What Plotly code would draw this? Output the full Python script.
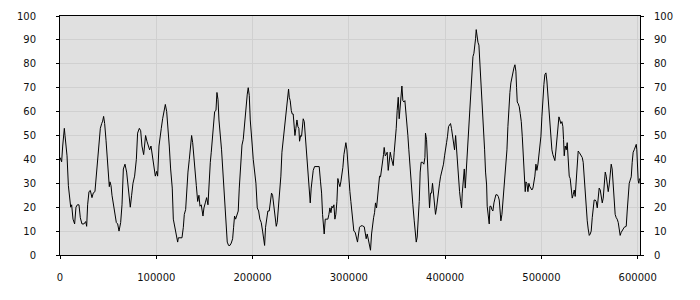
import plotly.graph_objects as go

# x positions in thousands
x_k = [
    0, 1.7, 2.8, 3.5, 4.5, 5.2, 6.2, 7.3, 8.7, 9.7,
    11.1, 12.1, 13.5, 15.2, 16.6, 18.0, 19.7, 21.1, 22.8, 24.9,
    26.7, 27.7, 28.7, 30.1, 31.5, 33.2, 34.6, 36.3, 37.7, 39.1,
    40.5, 41.9, 43.3, 44.3, 45.3, 46.4, 47.8, 49.1, 50.2, 51.2,
    51.9, 53.0, 54.0, 55.4, 56.8, 58.5, 59.9, 61.3, 63.0, 64.4,
    65.8, 67.5, 69.2, 71.3, 73.0, 74.4, 75.8, 77.5, 79.3, 80.6,
    82.4, 83.8, 85.1, 86.9, 87.9, 88.9, 90.3, 91.7, 93.1, 94.5,
    95.9, 97.3, 99.0, 100.4, 101.4, 102.8, 104.2, 105.2, 106.6, 108.0,
    109.4, 110.8, 112.1, 113.5, 114.9, 116.6, 117.7, 119.4, 120.8, 122.2,
    122.9, 124.6, 126.7, 128.1, 129.1, 130.5, 131.5, 132.9, 134.3, 135.7,
    136.7, 137.8, 139.1, 140.2, 141.6, 143.0, 144.3, 145.4, 146.7, 148.5,
    149.5, 150.9, 152.3, 153.7, 154.7, 156.1, 157.1, 158.5, 159.6, 160.6,
    162.0, 163.0, 164.1, 165.1,
    167.8, 169.6, 170.6, 171.6, 172.7, 173.7, 175.1, 176.5, 177.9, 179.3,
    180.3, 181.3, 182.4, 184.1, 185.1, 186.2, 187.6, 189.0, 190.3, 191.4,
    192.4, 193.4, 194.5, 195.5, 196.6, 197.6, 198.6, 199.7, 200.7, 202.1,
    203.5, 204.9, 206.3, 207.6, 209.0, 210.4, 211.4, 212.5, 213.5, 214.9,
    215.9, 217.3, 218.7, 219.7, 220.8, 221.8, 223.2, 224.6, 225.6, 227.0,
    228.4, 229.4, 230.5, 231.5, 232.6, 233.6, 234.6, 235.7, 236.7, 237.4,
    238.1, 239.1, 240.2, 241.2, 242.2, 243.3, 244.0, 245.0, 246.1, 247.1,
    248.1, 248.8, 249.9, 250.9, 251.9, 252.6, 253.7, 254.7, 255.7, 256.8,
    257.8, 258.9, 259.9, 260.9, 262.0, 263.0, 264.4, 266.5, 269.2, 270.6,
    271.7, 272.7, 273.7, 274.4, 275.5, 276.9, 278.2, 279.3, 280.3, 281.4,
    282.4, 283.4, 284.5, 285.5, 286.5, 287.6, 288.6, 289.7, 290.7, 291.7,
    292.8, 293.8, 294.9, 295.9, 296.9, 298.0, 299.0, 300.0, 301.1, 302.1,
    303.2, 304.2, 305.2, 306.6, 308.0, 309.0, 310.1, 311.1, 312.5, 314.2,
    316.0, 317.0, 318.0, 319.1, 320.1, 321.5, 322.5, 323.6, 324.6, 325.7,
    326.7, 327.7, 328.8, 329.8, 330.9, 331.9, 332.9, 334.0, 335.0, 336.0,
    336.7, 337.8, 338.8, 339.8, 340.9, 341.9, 343.0, 344.0, 345.0, 346.1,
    347.1, 348.1, 349.2, 350.2, 351.3, 352.3, 353.3, 354.0, 355.1, 356.1,
    357.2, 358.2, 359.2, 360.3, 361.3, 362.3, 363.4, 364.4, 365.5, 366.5,
    367.9, 368.9, 370.0, 371.0, 372.0, 373.1, 374.1, 375.1, 376.5, 377.9,
    379.0, 379.6, 380.7, 381.7, 382.8, 383.8, 384.8, 385.9, 386.9, 387.9,
    389.0, 390.0, 391.1, 392.1, 393.1, 394.2, 395.2, 396.3, 397.3, 398.3,
    399.4, 400.4, 401.5, 402.5, 403.5, 404.6, 405.6, 406.6, 407.7, 408.7,
    409.8,
    410.9, 411.9, 412.9, 414.0, 415.0, 416.1, 417.1, 417.8, 418.8, 419.9,
    420.9, 421.9, 423.0, 424.0, 425.1, 426.1, 426.8, 427.8, 428.9, 429.9,
    430.6, 431.6, 432.3, 433.0, 434.1, 435.1, 436.1, 436.8, 437.9, 438.9,
    439.9, 441.0, 442.0, 443.1, 443.7, 444.8, 445.8, 446.5, 447.6, 448.6,
    449.6, 450.7, 451.7, 452.7, 454.1, 455.2, 456.2, 457.2, 457.9, 459.0,
    460.0, 461.1, 462.1, 463.1, 464.2, 465.2, 466.2, 467.3, 468.3, 469.4,
    470.4, 471.4, 472.5, 473.5, 474.2, 474.9, 475.9, 477.0, 478.0, 479.1,
    480.1, 481.1, 482.2, 483.2, 483.9, 484.9, 486.0, 487.0, 488.0, 489.1,
    490.1, 491.2, 492.2, 493.2, 494.3, 495.3, 496.4, 497.4, 498.4, 499.5,
    500.5, 501.5, 502.6, 503.6, 504.7, 505.7, 506.7, 507.8, 508.8, 509.9,
    510.9, 511.9, 513.0, 514.0, 515.0, 516.1, 517.1, 518.2, 519.2, 520.2,
    521.3, 522.3, 523.0, 523.7, 524.7, 525.8, 526.8, 527.9, 528.9, 529.9,
    531.0, 532.0, 533.0, 534.1, 535.1, 536.2, 537.2, 538.2, 539.3, 540.3,
    541.3, 542.4, 543.4, 544.5, 545.5, 546.5, 547.6, 548.6, 549.7, 550.7,
    551.7, 552.8, 553.8, 554.8, 555.9, 556.9, 558.0, 559.0, 560.0, 561.1,
    562.1, 563.2, 564.2, 565.2, 566.3, 567.3, 568.3, 569.4, 570.4, 571.5,
    572.5, 573.5, 574.6, 575.6, 576.6, 577.7, 578.7, 579.8, 580.8, 581.8,
    582.9, 583.9, 585.0, 586.0, 587.0, 588.1, 589.1, 590.1, 591.2, 592.2,
    593.3, 594.3, 595.3, 596.4, 597.4, 598.5, 599.1, 599.8, 600.5, 601.2,
    601.9,
]

values = [
    40.8, 39, 45.6, 51, 53, 50, 45, 41.5, 29, 24,
    20, 21, 15, 13, 20, 21, 21, 15.6, 13, 13,
    14, 12, 21, 26.5, 27, 24, 26, 26.5, 33, 41,
    47, 53, 55, 56, 58, 55, 48, 41, 32.7, 28.6,
    30.6, 29, 25, 21, 17, 13.6, 13, 10, 13.6, 21,
    36, 38, 34.7, 26.5, 20, 25, 30, 33, 40, 51,
    53, 52, 45.6, 42, 45, 50, 47.6, 45.6, 44, 45.6,
    41.5, 38, 33, 35, 33, 45.6, 51, 53, 57, 60,
    63, 60, 54, 45.6, 36, 28, 15, 11.6, 7.5, 5.4,
    7.2, 7.2, 7.2, 11.6, 17, 19, 26.5, 34.7, 40, 45.6,
    50, 47, 39.5, 37.4, 29, 22.4, 25, 20.4, 21, 16.3,
    19.7, 21.8, 24, 21, 30.6, 38.8, 43, 50, 56.5, 60,
    60.5, 68, 65, 56.5,
    44, 32, 22.4, 17, 10, 5.4, 4, 4, 5, 6.8,
    11.6, 16.3, 15, 17, 18.4, 28, 37.4, 46, 48.3, 53.7,
    60.5, 64.6, 67.3, 70, 66.7, 56.5, 48.3, 45.6, 40, 34.7,
    30, 19.7, 18.4, 15, 13.6, 10, 6.8, 4, 11.6, 16.3,
    18.4, 18.4, 23, 25.9, 25, 21.8, 17.7, 12, 13.6, 21,
    26.5, 33, 43, 47, 52.4, 57, 59, 63, 68.7, 69.4,
    66, 64.6, 60.5, 59, 59, 54, 50, 53, 56.5, 53.7,
    53, 47.6, 50, 49.7, 53, 57, 55.8, 49.7, 44, 37.4,
    30.6, 25.9, 21.8, 28, 32, 35.4, 37, 37, 37, 30.6,
    25.9, 17, 11.6, 8.8, 15, 15, 15, 17, 19.7, 17.7,
    20.4, 19.7, 21, 15, 17, 22.4, 32, 30, 28.6, 30.6,
    33, 36.7, 42, 45.6, 47, 44, 37.4, 32, 26.5, 22.4,
    18.4, 14.3, 10, 9.5, 7.5, 5.4, 8.8, 11.6, 12.2, 12.2,
    11.8, 8.8, 6.8, 8.8, 6.8, 3.4, 2, 8.8, 13, 15.6,
    17.7, 21.8, 19.7, 23.8, 28, 33, 32.7, 36, 37.4, 42,
    45, 41.5, 42, 43, 35.4, 40, 43, 40.8, 38.8, 37.4,
    43, 47, 53, 60.5, 66, 57, 63, 67.3, 70.7, 64.6,
    64, 64.6, 60.5, 57, 50, 44, 37.4, 30.6, 25, 21,
    14.3, 8.8, 5.4, 7.5, 14.3, 22.4, 34.7, 38.8, 38.8, 38,
    40.8, 51, 48.3, 39.5, 32, 19.7, 25.9, 25.9, 30, 25,
    22.4, 17, 19.7, 23.8, 26.5, 30, 32.7, 34.7, 36, 38,
    41.5, 45.6, 47, 49.7, 53.7, 54.4, 55, 53, 49.7, 47,
    44,
    50, 43, 36, 32, 26.5, 22.4, 19.7, 25.9, 32, 36,
    28, 34.7, 40, 49.7, 56.5, 60.5, 68.7, 76.9, 83, 84.4,
    86.4, 90.5, 94.3, 91.8, 89, 87.8, 81, 72.8, 65.3, 59.2,
    52.4, 44, 34.7, 29.3, 20.4, 15.6, 13, 20.4, 20.4, 19,
    18.4, 21.8, 23.8, 25.2, 25.2, 24.5, 23, 18.4, 14.3, 17,
    22.4, 27.2, 30, 36, 44, 53.7, 62, 68, 72, 74.8,
    76.9, 78.2, 79.6, 76.9, 70, 64, 63.3, 62, 59.2, 55.8,
    49.7, 41.5, 33, 26.5, 30.6, 30, 26.5, 30, 28.6, 28,
    27.2, 28, 30, 33, 38, 35.4, 38, 41.5, 44, 49.7,
    57.8, 66, 71.4, 75.5, 76.2, 72.8, 67.3, 59.2, 52.4, 48.3,
    44, 42, 40.8, 39.5, 43.5, 48.3, 53.7, 57.8, 56.5, 55,
    55.8, 53.7, 48.3, 41.5, 45.6, 44, 47, 40, 33, 32,
    28, 23.8, 25.2, 27.2, 24.5, 30.6, 38.8, 43.5, 42.9, 42,
    41.5, 40.8, 38.8, 32, 23.8, 18.4, 14.3, 10.9, 8.2, 8.8,
    10, 15.6, 21, 23, 23, 22.4, 19.7, 23, 28, 27.2,
    25.2, 21.8, 23.8, 30.6, 34.7, 33, 30.6, 26.5, 29.3, 33,
    38, 36, 28, 21, 17, 15.6, 15, 13.6, 10.9, 8.2,
    9.5, 10, 10.9, 11.6, 11.8, 12, 18.4, 25.2, 30, 31.3,
    32.7, 38.8, 43, 44, 45, 46.3, 44, 36, 31.3, 30,
    32,
]

assert len(x_k) == len(values), (len(x_k), len(values))
x_vals = [v * 1000 for v in x_k]

y_ticks = list(range(0, 101, 10))
x_ticks = [0, 100000, 200000, 300000, 400000, 500000, 600000]

font = dict(family="DejaVu Sans", size=10, color="#111111")

fig = go.Figure()
fig.add_trace(go.Scatter(x=x_vals, y=values, mode="lines",
                         line=dict(color="black", width=1), hoverinfo="skip",
                         showlegend=False))
# invisible trace for the right-hand axis
fig.add_trace(go.Scatter(x=[x_vals[0]], y=[values[0]], yaxis="y2", mode="lines",
                         line=dict(width=0), opacity=0, showlegend=False, hoverinfo="skip"))

fig.update_layout(
    width=700, height=300,
    margin=dict(l=60, r=60, t=10, b=45),
    paper_bgcolor="white",
    plot_bgcolor="#e0e0e0",
    font=font,
    xaxis=dict(range=[0, 602400], tickvals=x_ticks, ticktext=[str(t) for t in x_ticks],
               showgrid=True, gridcolor="#d0d0d0", gridwidth=1, zeroline=False,
               showline=True, linecolor="black", linewidth=1, mirror=True,
               ticks="outside", ticklen=3, tickcolor="black",
               ticklabelstandoff=10, tickfont=font),
    yaxis=dict(range=[0, 100], tickvals=y_ticks, showgrid=True, gridcolor="#d0d0d0",
               gridwidth=1, zeroline=False, showline=True, linecolor="black", linewidth=1,
               ticks="outside", ticklen=3, tickcolor="black",
               ticklabelstandoff=18, tickfont=font),
    yaxis2=dict(range=[0, 100], tickvals=y_ticks, overlaying="y", side="right",
                showgrid=False, zeroline=False, showline=True, linecolor="black",
                linewidth=1, ticks="outside", ticklen=3, tickcolor="black",
                ticklabelstandoff=8, tickfont=font),
)

fig.write_html("out.html")
